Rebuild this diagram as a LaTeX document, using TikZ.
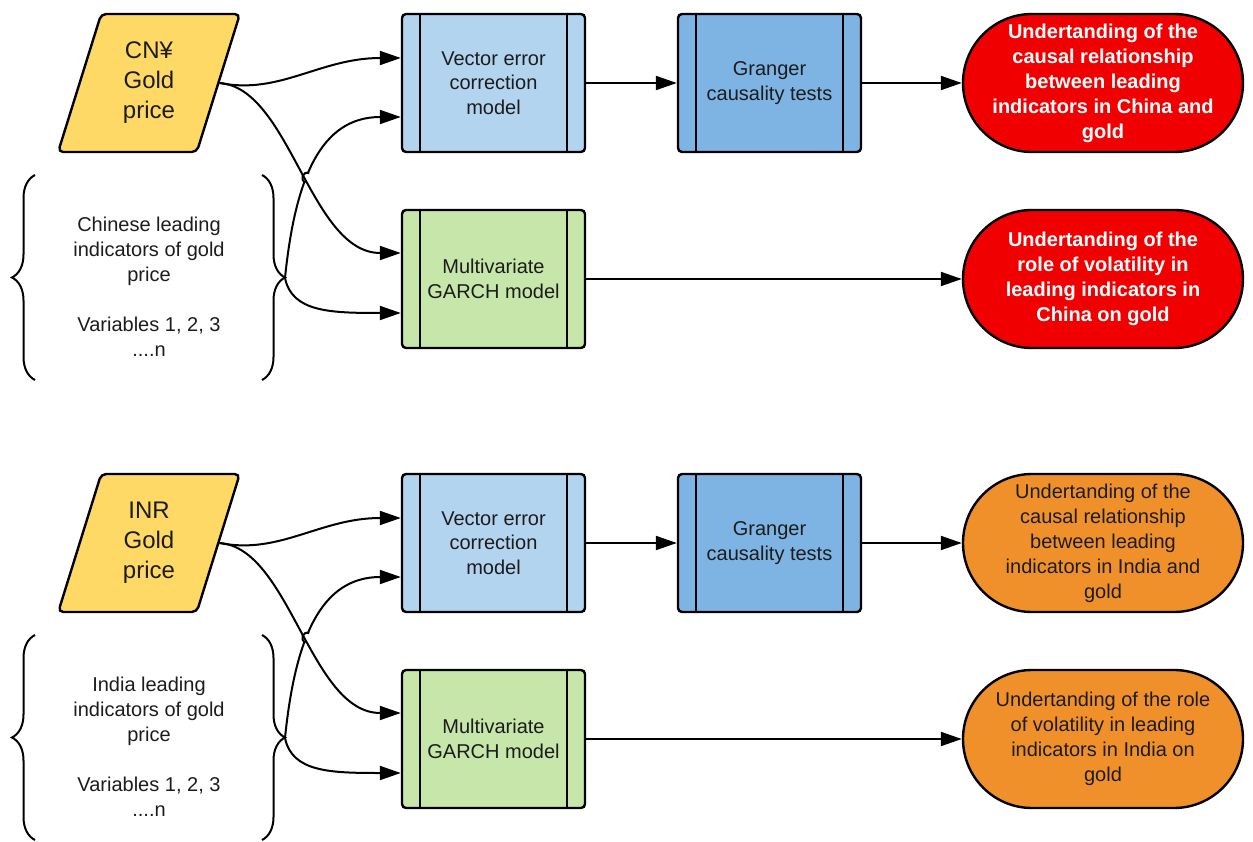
\documentclass[tikz,border=0pt]{standalone}
\usepackage{fontspec}
\setmainfont{Liberation Sans}
\usetikzlibrary{shapes.geometric,arrows.meta,decorations.pathreplacing,intersections,calc}

\definecolor{goldfill}{HTML}{FFD966}
\definecolor{vecfill}{HTML}{B3D4EF}
\definecolor{grangerfill}{HTML}{7EB4E3}
\definecolor{garchfill}{HTML}{C6E6AA}
\definecolor{chinared}{HTML}{F00000}
\definecolor{indiaorange}{HTML}{F0902B}
\definecolor{textgrey}{HTML}{1C1C1C}

\tikzset{
  flowline/.style={line width=2pt},
  flowarrow/.style={flowline,-{Triangle[length=21pt,width=14pt]}},
  pricebox/.style={trapezium, trapezium left angle=74, trapezium right angle=106,
    trapezium stretches=true, minimum width=182pt, minimum height=138pt, inner sep=0pt,
    draw, line width=2.4pt, rounded corners=5pt, fill=goldfill, align=center,
    font=\fontsize{24}{30}\selectfont, text=textgrey},
  procbox/.style={rectangle, draw, line width=2.4pt, rounded corners=4pt,
    minimum width=183pt, minimum height=138pt, inner sep=0pt, align=center,
    font=\fontsize{20}{24.5}\selectfont, text=textgrey,
    path picture={
      \draw[line width=2pt] ([xshift=18pt]path picture bounding box.north west) -- ([xshift=18pt]path picture bounding box.south west);
      \draw[line width=2pt] ([xshift=-18pt]path picture bounding box.north east) -- ([xshift=-18pt]path picture bounding box.south east);}},
  outcome/.style={rectangle, rounded corners=69pt, draw, line width=2.4pt, minimum width=280pt,
    minimum height=138pt, inner sep=0pt, align=center, font=\fontsize{20}{25}\selectfont},
  bracetext/.style={align=center, font=\fontsize{20}{25}\selectfont, text=textgrey},
  curly/.style={decorate, decoration={brace, amplitude=23pt}, line width=2pt}
}

\begin{document}
\begin{tikzpicture}[x=1pt,y=-1pt]
\useasboundingbox (0,0) rectangle (1253,842);

% China
\node[pricebox] (gpcn) at (149,83) {CN¥\\Gold\\price};
\node[bracetext] (ldcn) at (149,287) {Chinese leading\\indicators of gold\\price\\[25pt]Variables 1, 2, 3\\....n};
\draw[curly] (35,380) -- (35,175);
\draw[curly] (262,175) -- (262,380);
\coordinate (tipcn) at (285,278);
\node[procbox, fill=vecfill] (veccn) at (493.5,83) {Vector error\\correction\\model};
\node[procbox, fill=grangerfill] (grcn) at (769.5,83) {Granger\\causality tests};
\node[outcome, fill=chinared, text=white, font=\fontsize{20}{25}\selectfont\bfseries] (causcn) at (1103,83) {Undertanding of the\\causal relationship\\between leading\\indicators in China and\\gold};
\node[procbox, fill=garchfill] (garchcn) at (493.5,279) {Multivariate\\GARCH model};
\node[outcome, fill=chinared, text=white, font=\fontsize{20}{25}\selectfont\bfseries] (volcn) at (1103,279) {Undertanding of the\\role of volatility in\\leading indicators in\\China on gold};

\draw[flowarrow] (gpcn.right side) .. controls (280,95) and (320,58) .. ([yshift=25pt]veccn.west);
\draw[flowarrow, name path=riscn] (tipcn) .. controls (295,180) and (320,117) .. ([yshift=-34pt]veccn.west);
\path[name path=descn] (gpcn.right side) .. controls (290,88) and (310,253) .. ([yshift=26pt]garchcn.west);
\path[name intersections={of=riscn and descn, by=hopcn}];
\fill[white] (hopcn) circle (5pt);
\draw[flowline] ($(hopcn)+(-1.85,4.65)$) .. controls ($(hopcn)+(-8.05,2.15)$) and ($(hopcn)+(-4.35,-7.15)$) .. ($(hopcn)+(1.85,-4.65)$);
\draw[flowarrow] (gpcn.right side) .. controls (290,88) and (310,253) .. ([yshift=26pt]garchcn.west);
\draw[flowarrow] (tipcn) .. controls (292,312) and (330,313) .. ([yshift=-34pt]garchcn.west);
\draw[flowarrow] (veccn.east) -- (grcn.west);
\draw[flowarrow] (grcn.east) -- (causcn.west);
\draw[flowarrow] (garchcn.east) -- (volcn.west);

% India
\node[pricebox] (gpin) at (149,543) {INR\\Gold\\price};
\node[bracetext] (ldin) at (149,747) {India leading\\indicators of gold\\price\\[25pt]Variables 1, 2, 3\\....n};
\draw[curly] (35,840) -- (35,635);
\draw[curly] (262,635) -- (262,840);
\coordinate (tipin) at (285,738);
\node[procbox, fill=vecfill] (vecin) at (493.5,543) {Vector error\\correction\\model};
\node[procbox, fill=grangerfill] (grin) at (769.5,543) {Granger\\causality tests};
\node[outcome, fill=indiaorange, text=textgrey] (causin) at (1103,543) {Undertanding of the\\causal relationship\\between leading\\indicators in India and\\gold};
\node[procbox, fill=garchfill] (garchin) at (493.5,739) {Multivariate\\GARCH model};
\node[outcome, fill=indiaorange, text=textgrey] (volin) at (1103,739) {Undertanding of the role\\of volatility in leading\\indicators in India on\\gold};

\draw[flowarrow] (gpin.right side) .. controls (280,555) and (320,518) .. ([yshift=25pt]vecin.west);
\draw[flowarrow, name path=risin] (tipin) .. controls (295,640) and (320,577) .. ([yshift=-34pt]vecin.west);
\path[name path=desin] (gpin.right side) .. controls (290,548) and (310,713) .. ([yshift=26pt]garchin.west);
\path[name intersections={of=risin and desin, by=hopin}];
\fill[white] (hopin) circle (5pt);
\draw[flowline] ($(hopin)+(-1.85,4.65)$) .. controls ($(hopin)+(-8.05,2.15)$) and ($(hopin)+(-4.35,-7.15)$) .. ($(hopin)+(1.85,-4.65)$);
\draw[flowarrow] (gpin.right side) .. controls (290,548) and (310,713) .. ([yshift=26pt]garchin.west);
\draw[flowarrow] (tipin) .. controls (292,772) and (330,773) .. ([yshift=-34pt]garchin.west);
\draw[flowarrow] (vecin.east) -- (grin.west);
\draw[flowarrow] (grin.east) -- (causin.west);
\draw[flowarrow] (garchin.east) -- (volin.west);
\end{tikzpicture}
\end{document}
